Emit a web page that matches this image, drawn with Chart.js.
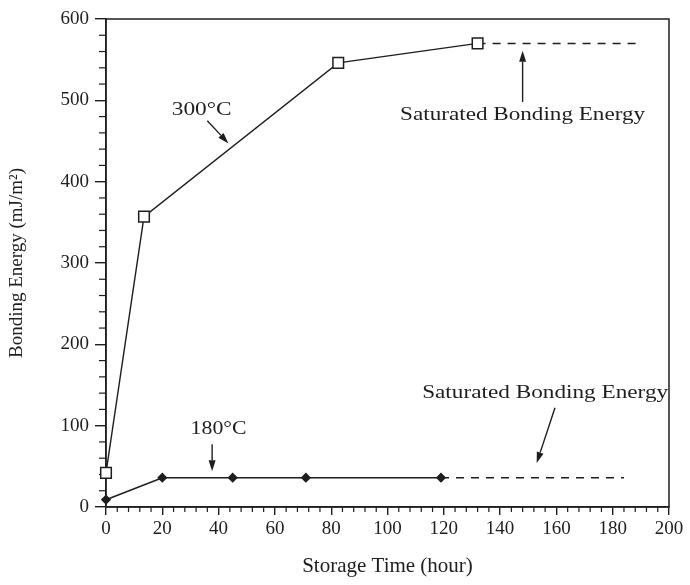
<!DOCTYPE html>
<html>
<head>
<meta charset="utf-8">
<script src="https://cdn.jsdelivr.net/npm/chart.js@4.4.1/dist/chart.umd.min.js"></script>
<style>
html,body{margin:0;padding:0;background:#fff;}
#wrap{width:690px;height:585px;position:relative;}
</style>
</head>
<body>
<div id="wrap"><canvas id="c" width="690" height="585"></canvas></div>
<script>
// ---- data ----
const time300 = [0, 13.5, 82.5, 132];
const energy300 = [42, 357, 546, 570];
const sat300Time = [132, 189];
const sat300Energy = [570, 570];

const time180 = [0, 20, 45, 71, 119];
const energy180 = [9, 36, 36, 36, 36];
const sat180Time = [119, 184];
const sat180Energy = [36, 36];

const xTicks = [0, 20, 40, 60, 80, 100, 120, 140, 160, 180, 200];
const yTicks = [0, 100, 200, 300, 400, 500, 600];

const xTitle = 'Storage Time (hour)';
const yTitle = 'Bonding Energy (mJ/m\u00B2)';

// annotations (data coordinates)
const labels = [
  {text: '300\u00B0C', x: 34, y: 488, w: 60},
  {text: 'Saturated Bonding Energy', x: 148, y: 482, w: 245},
  {text: 'Saturated Bonding Energy', x: 156, y: 140, w: 246},
  {text: '180\u00B0C', x: 40, y: 95, w: 56}
];
const arrows = [
  {x1: 36, y1: 475, x2: 43.5, y2: 447},
  {x1: 148, y1: 498, x2: 148, y2: 561},
  {x1: 159.5, y1: 122, x2: 153, y2: 54},
  {x1: 37.7, y1: 77, x2: 37.7, y2: 44}
];

const pts = (xs, ys) => xs.map((x, i) => ({x: x, y: ys[i]}));
const INK = '#1e1e1e';
const FONT = '"Liberation Serif", "Times New Roman", serif';

const decor = {
  id: 'decor',
  beforeDatasetsDraw(chart) {
    const {ctx, chartArea: a, scales: {x, y}} = chart;
    ctx.save();
    ctx.strokeStyle = INK;
    ctx.lineWidth = 1.5;
    ctx.strokeRect(a.left, a.top, a.right - a.left, a.bottom - a.top);
    // minor ticks
    ctx.lineWidth = 1.2;
    for (let v = 0; v <= 200; v += 4) {
      if (v % 20 === 0) continue;
      const px = x.getPixelForValue(v);
      ctx.beginPath(); ctx.moveTo(px, a.bottom); ctx.lineTo(px, a.bottom + 5); ctx.stroke();
    }
    for (let v = 0; v <= 600; v += 20) {
      if (v % 100 === 0) continue;
      const py = y.getPixelForValue(v);
      ctx.beginPath(); ctx.moveTo(a.left - 7, py); ctx.lineTo(a.left, py); ctx.stroke();
    }
    ctx.restore();
  },
  afterDatasetsDraw(chart) {
    const {ctx, scales: {x, y}} = chart;
    ctx.save();
    ctx.fillStyle = INK;
    ctx.strokeStyle = INK;
    ctx.textAlign = 'center';
    ctx.textBaseline = 'middle';
    ctx.font = '18px ' + FONT;
    labels.forEach(l => {
      const cx = x.getPixelForValue(l.x), cy = y.getPixelForValue(l.y);
      const m = ctx.measureText(l.text).width;
      const s = l.w / m;
      ctx.save();
      ctx.translate(cx, cy);
      ctx.scale(s, 1);
      ctx.fillText(l.text, 0, 0);
      ctx.restore();
    });
    ctx.lineWidth = 1.4;
    arrows.forEach(ar => {
      const x1 = x.getPixelForValue(ar.x1), y1 = y.getPixelForValue(ar.y1);
      const x2 = x.getPixelForValue(ar.x2), y2 = y.getPixelForValue(ar.y2);
      const ang = Math.atan2(y2 - y1, x2 - x1);
      const L = 11, W = 3.5;
      const bx = x2 - L * Math.cos(ang), by = y2 - L * Math.sin(ang);
      ctx.beginPath(); ctx.moveTo(x1, y1); ctx.lineTo(bx, by); ctx.stroke();
      ctx.beginPath();
      ctx.moveTo(x2, y2);
      ctx.lineTo(bx + W * Math.sin(ang), by - W * Math.cos(ang));
      ctx.lineTo(bx - W * Math.sin(ang), by + W * Math.cos(ang));
      ctx.closePath(); ctx.fill();
    });
    ctx.restore();
  }
};

new Chart(document.getElementById('c'), {
  type: 'scatter',
  data: {
    datasets: [
      {label: '300\u00B0C', data: pts(time300, energy300), showLine: true, borderColor: INK, borderWidth: 1.4,
       pointStyle: 'rect', pointRadius: 7.5, pointBackgroundColor: '#fff', pointBorderColor: INK, pointBorderWidth: 1.5, clip: false},
      {label: 'sat300', data: pts(sat300Time, sat300Energy), showLine: true, borderColor: INK, borderWidth: 1.5,
       borderDash: [8, 7], pointRadius: 0, clip: false},
      {label: '180\u00B0C', data: pts(time180, energy180), showLine: true, borderColor: INK, borderWidth: 1.6,
       pointStyle: 'rectRot', pointRadius: 4, pointBackgroundColor: INK, pointBorderColor: INK, clip: false},
      {label: 'sat180', data: pts(sat180Time, sat180Energy), showLine: true, borderColor: INK, borderWidth: 1.5,
       borderDash: [8, 7], pointRadius: 0, clip: false}
    ]
  },
  options: {
    responsive: false,
    animation: false,
    layout: {padding: {top: 19, right: 21, left: 0, bottom: 0}},
    plugins: {legend: {display: false}, tooltip: {enabled: false}},
    scales: {
      x: {
        type: 'linear', min: 0, max: 200,
        afterFit: s => { s.height = 78; },
        afterBuildTicks: s => { s.ticks = xTicks.map(v => ({value: v})); },
        ticks: {color: INK, font: {family: FONT, size: 19}, padding: 3, maxRotation: 0},
        grid: {display: true, drawOnChartArea: false, drawTicks: true, tickLength: 8, color: INK, lineWidth: 1.4},
        border: {display: true, color: INK, width: 1.5},
        title: {display: true, text: xTitle, color: INK, font: {family: FONT, size: 21}, padding: {top: 0, bottom: 6}}
      },
      y: {
        type: 'linear', min: 0, max: 600,
        afterFit: s => { s.width = 106; },
        afterBuildTicks: s => { s.ticks = yTicks.map(v => ({value: v})); },
        ticks: {color: INK, font: {family: FONT, size: 19}, padding: 6},
        grid: {display: true, drawOnChartArea: false, drawTicks: true, tickLength: 11, color: INK, lineWidth: 1.4},
        border: {display: true, color: INK, width: 1.5},
        title: {display: true, text: yTitle, color: INK, font: {family: FONT, size: 19}, padding: {top: 6, bottom: 0}}
      }
    }
  },
  plugins: [decor]
});
</script>
</body>
</html>
